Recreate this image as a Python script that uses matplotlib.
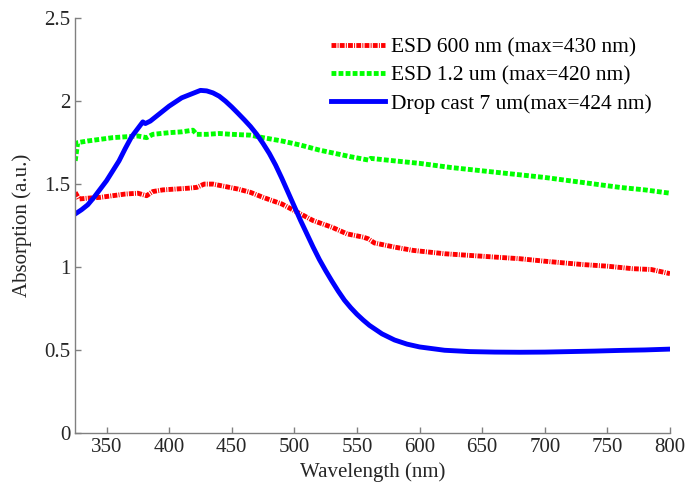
import matplotlib
matplotlib.use("Agg")
import matplotlib.pyplot as plt

plt.rcParams['font.family'] = ['Liberation Serif', 'DejaVu Serif']

# ESD 600 nm film
wl_red = [325, 328, 335, 345, 355, 365, 375, 382, 387, 395, 405, 415, 422, 428, 435,
          445, 455, 465, 475, 490, 505, 515, 530, 542, 555, 559, 564, 580, 595, 620,
          650, 680, 700, 730, 750, 770, 785, 800]
abs_red = [1.45, 1.41, 1.415, 1.42, 1.43, 1.44, 1.445, 1.43, 1.455, 1.465, 1.47, 1.475,
           1.48, 1.50, 1.50, 1.485, 1.47, 1.45, 1.42, 1.38, 1.32, 1.28, 1.24, 1.20,
           1.18, 1.17, 1.145, 1.12, 1.10, 1.08, 1.065, 1.05, 1.035, 1.015, 1.005,
           0.99, 0.985, 0.96]

# ESD 1.2 um film
wl_green = [325, 327, 335, 345, 355, 365, 375, 382, 387, 400, 410, 419, 422, 430, 440,
            450, 465, 475, 490, 505, 520, 545, 559, 561, 580, 600, 625, 650, 675, 700,
            730, 760, 780, 800]
abs_green = [1.64, 1.75, 1.76, 1.77, 1.78, 1.785, 1.79, 1.78, 1.80, 1.81, 1.815, 1.825,
             1.80, 1.80, 1.805, 1.80, 1.795, 1.78, 1.76, 1.735, 1.705, 1.665, 1.645,
             1.655, 1.64, 1.625, 1.60, 1.58, 1.56, 1.54, 1.51, 1.48, 1.465, 1.445]

# drop cast 7 um film
wl_blue = [325, 330, 335, 340, 345, 350, 355, 360, 365, 370, 375, 379, 381, 385, 390,
           395, 400, 405, 410, 415, 420, 425, 430, 435, 440, 445, 450, 455, 460, 465,
           470, 475, 480, 485, 490, 495, 500, 505, 510, 515, 520, 525, 530, 535, 540,
           545, 550, 555, 560, 570, 580, 590, 600, 620, 640, 660, 680, 700, 720, 740,
           760, 780, 800]
abs_blue = [1.32, 1.345, 1.375, 1.42, 1.47, 1.52, 1.58, 1.64, 1.715, 1.785, 1.835, 1.875,
            1.865, 1.88, 1.91, 1.94, 1.97, 1.995, 2.02, 2.035, 2.05, 2.065, 2.062, 2.05,
            2.03, 2.00, 1.965, 1.927, 1.888, 1.847, 1.80, 1.745, 1.685, 1.615, 1.535,
            1.45, 1.365, 1.28, 1.20, 1.12, 1.045, 0.978, 0.915, 0.855, 0.80, 0.755,
            0.715, 0.68, 0.648, 0.597, 0.56, 0.535, 0.518, 0.498, 0.49, 0.487, 0.486,
            0.487, 0.49, 0.493, 0.497, 0.50, 0.505]

labels = ['ESD 600 nm (max=430 nm)', 'ESD 1.2 um (max=420 nm)', 'Drop cast 7 um(max=424 nm)']
xticks = [350, 400, 450, 500, 550, 600, 650, 700, 750, 800]
yticks = [0, 0.5, 1, 1.5, 2, 2.5]

fig = plt.figure(figsize=(6.9, 4.93), dpi=100)
ax = fig.add_axes([0.109, 0.122, 0.862, 0.841])

ax.plot(wl_red, abs_red, color='#ff0000', lw=3.5, ls=(0, (1.0, 0.25, 0.2, 0.25)),
        solid_capstyle='butt', dash_capstyle='butt', label=labels[0])
ax.plot(wl_green, abs_green, color='#00ff00', lw=3.5, ls=(0, (1.0, 0.45)),
        dash_capstyle='butt', label=labels[1])
ax.plot(wl_blue, abs_blue, color='#0000ff', lw=3.5, label=labels[2])

ax.set_xlim(325, 800)
ax.set_ylim(0, 2.5)
ax.set_xticks(xticks)
ax.set_yticks(yticks)
ax.set_yticklabels(['0', '0.5', '1', '1.5', '2', '2.5'])

for s in ['top', 'right']:
    ax.spines[s].set_visible(False)
for s in ['left', 'bottom']:
    ax.spines[s].set_color('#808080')
    ax.spines[s].set_linewidth(1.0)
ax.tick_params(direction='in', length=4, width=1, color='#808080',
               labelsize=15, labelcolor='#262626')

ax.set_xlabel('Wavelength (nm)', fontsize=15, color='#262626', labelpad=4)
ax.set_ylabel('Absorption (a.u.)', fontsize=15, color='#262626', labelpad=9)

ax.legend(loc='upper right', frameon=False, fontsize=15.5, handlelength=2.5,
          handletextpad=0.28, labelspacing=0.38, borderaxespad=0.3,
          bbox_to_anchor=(0.995, 0.99))

fig.savefig('out.png', dpi=100)
